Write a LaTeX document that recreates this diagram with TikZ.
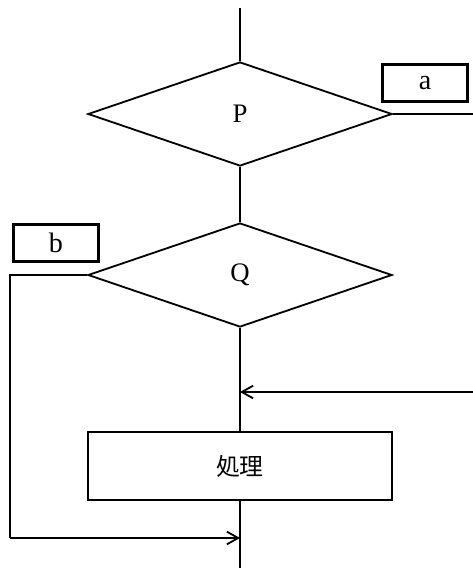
\documentclass[tikz,border=0pt]{standalone}
\usepackage{fontspec}
\setmainfont{Liberation Serif}
\newfontfamily\jpfont{Noto Sans CJK JP}
\usetikzlibrary{shapes.geometric, arrows.meta, positioning}

\begin{document}
\begin{tikzpicture}[x=0.025cm, y=-0.025cm, line width=1.3pt, >={Straight Barb[length=8pt, width=9pt]},
  decision/.style={diamond, draw, inner sep=0pt, minimum width=7.6cm, minimum height=2.6cm, font=\fontsize{19}{22}\selectfont},
  process/.style={rectangle, draw, minimum width=7.6cm, minimum height=1.7cm, font=\jpfont\fontsize{17}{20}\selectfont},
  tag/.style={rectangle, draw, line width=2.4pt, minimum width=2.12cm, minimum height=0.93cm, font=\fontsize{20}{23}\selectfont}]
                        \useasboundingbox (0,0) rectangle (473,568);
                        \node[decision] (P) at (240,114) {P};
                        \node[decision] (Q) at (240,275) {Q};
                        \node[process] (proc) at (240,466) {処理};
                        \node[tag] (a) at (425,83) {a};
                        \node[tag] (b) at (56,243) {b};
                        \coordinate (top) at (240,8);
                        \coordinate (bottom) at (240,568);
                        \coordinate (pout) at (473,114);
                        \coordinate (rin) at (473,392);
                        \coordinate (join) at (240,392);
                        \coordinate (qcorner) at (10,275);
                        \coordinate (lcorner) at (10,538);
                        \coordinate (merge) at (240,538);
                        \draw
                        (top) -- (P.north)
                        (P.south) -- (Q.north)
                        (P.east) -- (pout)
                        (Q.south) -- (proc.north)
                        (proc.south) -- (bottom)
                        (Q.west) -- (qcorner) -- (lcorner) edge[->] (merge)
                        (rin) edge[->] (join);
                    \end{tikzpicture}
\end{document}
